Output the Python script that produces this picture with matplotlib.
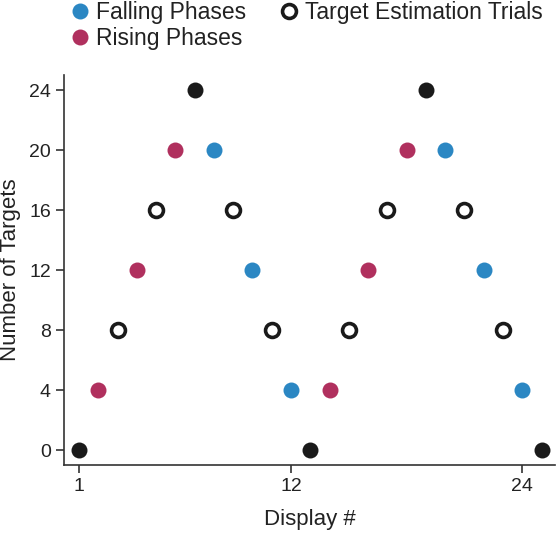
import matplotlib
matplotlib.use("Agg")
import matplotlib.pyplot as plt
from matplotlib.lines import Line2D

plt.rcParams['font.family'] = ['Liberation Sans', 'DejaVu Sans']

display = list(range(1, 26))
targets = [0, 4, 8, 12, 16, 20, 24, 20, 16, 12, 8, 4, 0,
           4, 8, 12, 16, 20, 24, 20, 16, 12, 8, 4, 0]
kind = ['x', 'r', 'e', 'r', 'e', 'r', 'x', 'f', 'e', 'f', 'e', 'f', 'x',
        'r', 'e', 'r', 'e', 'r', 'x', 'f', 'e', 'f', 'e', 'f', 'x']
xticks = [1, 12, 24]
yticks = [0, 4, 8, 12, 16, 20, 24]
labels = ['Falling Phases', 'Rising Phases', 'Target Estimation Trials']

BLUE = '#2B87C3'
RED = '#B0305E'
BLACK = '#1a1a1a'

fig = plt.figure(figsize=(5.58, 5.35), dpi=100)
ax = fig.add_axes([0.1147, 0.1308, 0.88, 0.729])

for k, col in [('f', BLUE), ('r', RED), ('x', BLACK)]:
    xs = [d for d, kk in zip(display, kind) if kk == k]
    ys = [t for t, kk in zip(targets, kind) if kk == k]
    ax.plot(xs, ys, 'o', ms=11.5, color=col, mec='none', zorder=3)
xs = [d for d, kk in zip(display, kind) if kk == 'e']
ys = [t for t, kk in zip(targets, kind) if kk == 'e']
ax.plot(xs, ys, 'o', ms=10, mfc='white', mec=BLACK, mew=2.6, zorder=3)

ax.set_xlim(0.22, 25.7)
ax.set_ylim(-1, 25)
ax.set_xticks(xticks)
ax.set_yticks(yticks)
for s in ['top', 'right']:
    ax.spines[s].set_visible(False)
for s in ['left', 'bottom']:
    ax.spines[s].set_linewidth(1.2)
    ax.spines[s].set_color('#333333')
ax.tick_params(labelsize=14, length=6, width=1.2, color='#333333', labelcolor='#222222')
ax.set_xlabel('Display #', fontsize=16, color='#222222', labelpad=10)
ax.set_ylabel('Number of Targets', fontsize=16, color='#222222', labelpad=6)

handles = [
    Line2D([], [], ls='none', marker='o', ms=11.5, color=BLUE, mec='none'),
    Line2D([], [], ls='none', marker='o', ms=11.5, color=RED, mec='none'),
    Line2D([], [], ls='none', marker='o', ms=10, mfc='white', mec=BLACK, mew=2.6),
]
fig.legend(handles, labels, ncol=2, loc='upper left', bbox_to_anchor=(0.081, 1.036),
           frameon=False, fontsize=16.5, handletextpad=0.1, columnspacing=1.28,
           labelspacing=0.12, handlelength=1.2, labelcolor='#222222')

fig.savefig('out.png', dpi=100)
